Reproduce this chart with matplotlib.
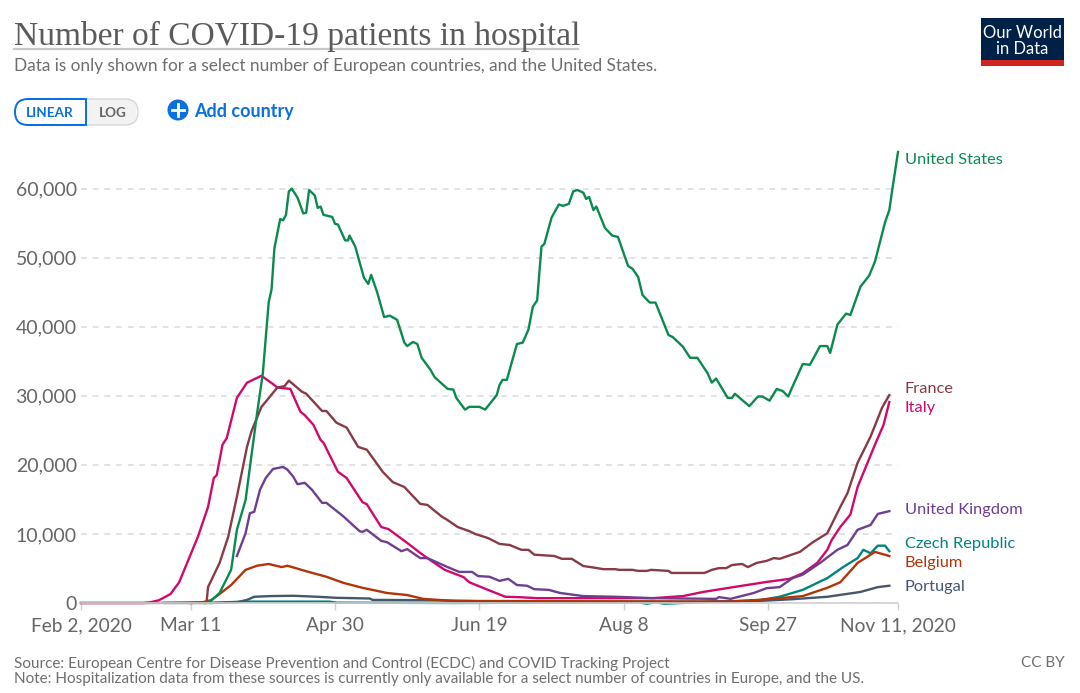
import matplotlib
matplotlib.use('Agg')
import matplotlib.pyplot as plt
from matplotlib.patches import Rectangle, FancyBboxPatch, Circle

plt.rcParams['font.family'] = ['Lato', 'DejaVu Sans']

# x values are days since Feb 2, 2020
us_days = [43, 45, 48, 52, 54, 57, 59, 61, 63, 65, 66, 67, 69, 70, 71, 72, 73, 75, 77, 78, 79, 81, 82, 83, 84, 87, 88, 89,
           91.5, 92.5, 93, 95, 98, 99.5, 100.5, 102.5, 105, 107, 109.5, 112, 113, 115, 116.5, 118, 121, 122.5, 127, 129,
           130, 133, 134.5, 138, 140, 144, 145, 146, 147.5, 151, 153, 155, 156.5, 158, 159.5, 160.5, 163, 165.5, 167, 169,
           170.5, 172, 174, 175, 176, 177.5, 178.5, 181.5, 184, 186, 189.5, 191, 193, 194.5, 197, 199, 203.5, 205, 208.5,
           211, 213.5, 217, 218.5, 220, 224, 225.5, 226.5, 231.5, 234.5, 236, 238.5, 241, 243, 245, 246, 250, 252.5, 256,
           258.5, 259.5, 262, 265, 266.5, 270, 273, 275, 278.5, 280, 281, 283]
us_values = [0, 300, 1450, 4800, 10600, 14900, 21200, 27500, 33300, 43500, 45400, 51400, 55600, 55400, 56200, 59600, 60000,
             58700, 56400, 56500, 59800, 59000, 57200, 57400, 56200, 55900, 54900, 54800, 52500, 52500, 53200, 51600, 47100,
             46200, 47500, 45100, 41400, 41600, 41000, 37700, 37200, 37800, 37500, 35500, 33800, 32700, 31000, 30900, 29700,
             28000, 28400, 28400, 28000, 30100, 31600, 32300, 32300, 37500, 37700, 39600, 42900, 43800, 51600, 52000, 55800,
             57700, 57500, 57800, 59600, 59800, 59400, 58500, 58800, 56900, 57400, 54300, 53200, 53000, 48800, 48400, 47200,
             44600, 43500, 43500, 38800, 38500, 37100, 35500, 35500, 33300, 31900, 32500, 29700, 29700, 30300, 28500, 29900,
             29900, 29300, 31000, 30700, 29900, 30900, 34600, 34500, 37200, 37200, 36200, 40300, 41900, 41700, 45800, 47400,
             49400, 55100, 56900, 59800, 65300]

italy_days = [0, 21.5, 24, 27, 31, 34, 40.5, 44, 46, 47, 49, 50.5, 54, 57.5, 62.5, 66.5, 68, 72.5, 76, 77.5, 80.5, 83, 84,
              89, 92, 97.5, 99, 104, 106.5, 113, 117.5, 121, 126, 132.5, 134.5, 141, 147, 151.5, 158, 198, 208.5, 215.5,
              226, 237.5, 242, 245.5, 250, 255, 258.5, 260, 263, 266.5, 269, 275, 278, 280]
italy_values = [0, 0, 100, 400, 1300, 3000, 9600, 13900, 18100, 18500, 22900, 23900, 29700, 31900, 32900, 31700, 31200,
                31000, 27700, 27200, 25800, 23600, 23200, 19000, 18100, 14600, 14300, 11000, 10700, 8700, 7250, 6200, 4800,
                3750, 3000, 1900, 900, 850, 700, 700, 1000, 1600, 2300, 3050, 3300, 3500, 4300, 5800, 7700, 9100, 11000,
                12800, 16800, 22900, 25800, 29100]

france_days = [0, 24, 43.5, 44, 48, 51, 54, 57.5, 59, 62.5, 64.5, 68, 70.5, 72, 76.5, 78, 83.5, 85, 88.5, 92, 96, 99, 104.5,
               108, 112, 117.5, 120, 125, 127, 130.5, 134.5, 136.5, 141, 145, 148.5, 152.5, 155, 157, 164, 166.5, 170, 174,
               176.5, 181, 185, 186.5, 191, 193, 196, 197.5, 203.5, 204.5, 216, 218.5, 221, 223.5, 225.5, 229, 231, 234,
               237.5, 240, 242, 249, 253.5, 258.5, 263, 265.5, 269, 273.5, 277.5, 280]
france_values = [0, 0, 100, 2300, 5800, 9600, 15400, 22600, 24800, 28400, 29400, 31200, 31400, 32200, 30600, 30300, 27800,
                 27800, 26100, 25400, 22600, 22200, 19000, 17500, 16800, 14350, 14200, 12500, 12000, 11000, 10400, 10000,
                 9400, 8550, 8400, 7700, 7700, 7000, 6800, 6400, 6400, 5350, 5200, 4900, 4900, 4800, 4800, 4650, 4650, 4800,
                 4650, 4350, 4350, 4800, 5050, 5050, 5500, 5650, 5200, 5800, 6100, 6500, 6400, 7400, 8800, 10100, 13900,
                 15900, 20300, 24100, 28300, 30100]

uk_days = [54, 57, 58.5, 60, 62, 64, 66.5, 70, 71.5, 73.5, 75, 77.5, 80, 83.5, 85, 91, 96.5, 97.5, 99, 104, 106, 111, 113,
           117.5, 120, 127, 131, 135.5, 137.5, 141.5, 145, 148, 151, 154.5, 157, 162, 166, 174, 185.5, 198, 220, 221, 225,
           233, 237.5, 242, 246.5, 250, 256, 262, 265.5, 269, 273.5, 276, 280]
uk_values = [6800, 10100, 13000, 13200, 16400, 18100, 19400, 19700, 19300, 18300, 17200, 17400, 16400, 14500, 14500, 12500,
             10400, 10300, 10600, 9000, 8800, 7500, 7800, 6500, 6500, 5200, 4500, 4500, 3900, 3800, 3200, 3500, 2600, 2500,
             2000, 1900, 1450, 1000, 900, 700, 600, 850, 600, 1450, 2150, 2300, 3600, 4100, 5800, 7700, 8400, 10600, 11300,
             12900, 13300]

belgium_days = [38, 42, 45, 48, 52, 57, 61, 65, 69.5, 71.5, 78, 85, 91, 97.5, 106, 113, 118.5, 129, 225, 233, 242, 250,
                258.5, 263, 269, 275, 280]
belgium_values = [0, 100, 400, 1300, 2600, 4800, 5400, 5650, 5200, 5400, 4600, 3800, 2900, 2200, 1450, 1150, 600, 300, 200,
                  400, 700, 1000, 2200, 3000, 5800, 7400, 6800]

czech_days = [45, 56, 86, 88.5, 130, 193, 196, 199, 202, 214, 235, 242, 250, 258.5, 264, 269, 271, 273.5, 276, 278.5, 280]
czech_values = [0, 200, 200, 50, 0, 100, -100, 100, -100, 100, 400, 900, 1900, 3600, 5200, 6500, 7700, 7200, 8300, 8300, 7500]

portugal_days = [29, 43.5, 54, 57.5, 60, 65.5, 73.5, 82, 88.5, 100, 101, 121, 145, 214.5, 235, 246.5, 258.5, 270, 276, 280]
portugal_values = [0, 0, 100, 450, 900, 1000, 1050, 900, 750, 650, 450, 400, 200, 200, 300, 550, 900, 1600, 2300, 2500]

yticks = [0, 10000, 20000, 30000, 40000, 50000, 60000]
xticks = [0, 38, 88, 138, 188, 238, 283]
xtick_labels = ['Feb 2, 2020', 'Mar 11', 'Apr 30', 'Jun 19', 'Aug 8', 'Sep 27', 'Nov 11, 2020']

W, H = 1080, 693
GREY = '#5b5b5b'
BLUE = '#0a6fe0'

# name, days, values, colour, label y in px; listed in drawing order
series = [
    ('Italy', italy_days, italy_values, '#cf0a6b', 408),
    ('France', france_days, france_values, '#883a46', 389),
    ('United Kingdom', uk_days, uk_values, '#6d3e91', 510),
    ('Czech Republic', czech_days, czech_values, '#00847e', 544),
    ('Portugal', portugal_days, portugal_values, '#46566f', 587),
    ('Belgium', belgium_days, belgium_values, '#b13507', 563),
    ('United States', us_days, us_values, '#0b8a50', 160),
]

fig = plt.figure(figsize=(W / 100, H / 100), dpi=100)

# overlay in pixel coordinates for the page furniture
bg = fig.add_axes([0, 0, 1, 1])
bg.set_xlim(0, W)
bg.set_ylim(H, 0)
bg.axis('off')

# plot area: x 81..898 px, y 603 (zero) .. 152 px (65,300)
ax = fig.add_axes([81 / W, (H - 603) / H, (898 - 81) / W, (603 - 152) / H])
ax.patch.set_alpha(0)
ax.set_xlim(0, 283)
ax.set_ylim(0, 65300)

for name in ['top', 'right', 'left']:
    ax.spines[name].set_visible(False)
ax.spines['bottom'].set_color('#cfcfcf')
ax.spines['bottom'].set_linewidth(1.2)

ax.set_yticks(yticks)
ax.set_yticklabels(['{:,}'.format(v) for v in yticks], fontsize=14, color='#666666')
ax.tick_params(axis='y', length=0, pad=3)
ax.set_xticks(xticks)
ax.set_xticklabels(xtick_labels, fontsize=13.8, color='#666666')
ax.tick_params(axis='x', length=5, width=1, color='#cfcfcf', pad=5)
ax.grid(axis='y', color='#dddddd', linestyle=(0, (3.5, 3.5)), linewidth=1.2)
ax.set_axisbelow(True)

for name, days, values, color, label_y in series:
    ax.plot(days, values, color=color, linewidth=1.7, clip_on=False, solid_joinstyle='round')
    bg.text(905, label_y, name, color=color, fontsize=11.8, va='center', ha='left')

# title block
bg.text(14, 36, 'Number of COVID-19 patients in hospital', family='Liberation Serif', fontsize=24.1,
        color=GREY, va='center', ha='left')
bg.plot([14, 578], [49, 49], color='#c8c8c8', linewidth=1.6)
bg.text(14, 66, 'Data is only shown for a select number of European countries, and the United States.',
        fontsize=12.4, color='#6e6e6e', va='center', ha='left')

# logo
bg.add_patch(Rectangle((981, 18), 83, 42, facecolor='#002147', edgecolor='none'))
bg.add_patch(Rectangle((981, 60), 83, 6, facecolor='#ce261e', edgecolor='none'))
bg.text(1022.5, 41, 'Our World\nin Data', color='white', fontsize=12, ha='center', va='center', linespacing=0.95)

# linear / log switch
bg.add_patch(FancyBboxPatch((60, 99), 78, 26, boxstyle='round,pad=0,rounding_size=13',
                            facecolor='#f2f2f2', edgecolor='#d4d8de', linewidth=1))
bg.add_patch(FancyBboxPatch((15, 99), 71, 26, boxstyle='round,pad=0,rounding_size=13',
                            facecolor='white', edgecolor=BLUE, linewidth=1.4))
bg.add_patch(Rectangle((60, 99), 26, 26, facecolor='white', edgecolor='none'))
bg.plot([28, 86, 86, 28], [99, 99, 125, 125], color=BLUE, linewidth=1.4, solid_joinstyle='miter')
bg.text(50, 113, 'LINEAR', color=BLUE, fontsize=9.7, fontweight='bold', ha='center', va='center')
bg.text(113, 113, 'LOG', color='#666666', fontsize=9.7, fontweight='bold', ha='center', va='center')

# add country
bg.add_patch(Circle((178, 110), 10.5, facecolor=BLUE, edgecolor='none'))
bg.plot([172, 184], [110, 110], color='white', linewidth=2)
bg.plot([178, 178], [104, 116], color='white', linewidth=2)
bg.text(194, 111.5, 'Add country', color=BLUE, fontsize=13, fontweight='bold', va='center', ha='left')

# footer
bg.text(14, 663, 'Source: European Centre for Disease Prevention and Control (ECDC) and COVID Tracking Project',
        fontsize=11, color='#6e6e6e', va='center', ha='left')
bg.text(14, 679, 'Note: Hospitalization data from these sources is currently only available for a select number of countries in Europe, and the US.',
        fontsize=10.95, color='#6e6e6e', va='center', ha='left')
bg.text(1065, 663, 'CC BY', fontsize=11, color='#6e6e6e', va='center', ha='right')

fig.savefig('out.png', dpi=100, facecolor='white')
